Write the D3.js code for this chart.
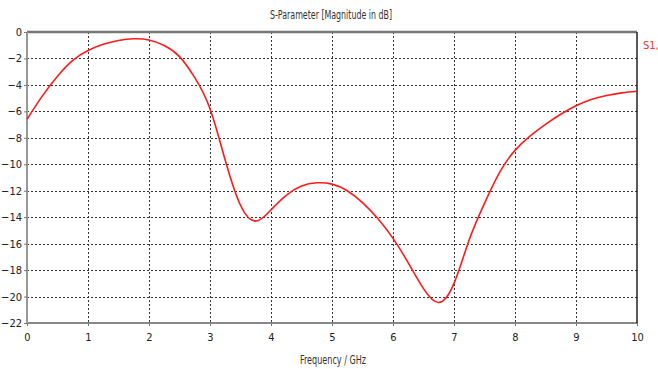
<!DOCTYPE html>
<html><head><meta charset="utf-8">
<script src="https://cdn.jsdelivr.net/npm/d3@7"></script>
<style>
html,body{margin:0;padding:0;background:#fff;}
svg{display:block;}
text{font-family:"DejaVu Sans",sans-serif;font-stretch:condensed;}
</style></head>
<body>
<script>
const freq = [0,0.25,0.5,0.75,1.0,1.25,1.5,1.75,2.0,2.25,2.5,2.75,3.0,3.25,3.5,3.75,4.0,4.25,4.5,4.75,5.0,5.25,5.5,5.75,6.0,6.25,6.5,6.75,7.0,7.25,7.5,7.75,8.0,8.25,8.5,8.75,9.0,9.25,9.5,9.75,10];
const s11 = [-6.6,-4.85,-3.35,-2.15,-1.4,-0.93,-0.64,-0.51,-0.6,-1.02,-1.86,-3.45,-5.8,-9.7,-13.1,-14.3,-13.45,-12.35,-11.65,-11.4,-11.5,-12.0,-12.9,-14.1,-15.6,-17.45,-19.4,-20.45,-19.0,-15.7,-12.95,-10.6,-8.95,-7.85,-6.98,-6.22,-5.58,-5.1,-4.8,-4.6,-4.48];
const xTicks = [0,1,2,3,4,5,6,7,8,9,10];
const yTicks = [0,-2,-4,-6,-8,-10,-12,-14,-16,-18,-20,-22];
const title = "S-Parameter [Magnitude in dB]";
const xTitle = "Frequency / GHz";
const legendLabel = "S1,";

const W = 658, H = 369;
const m = {left:27, right:21, top:32, bottom:46};
const svg = d3.select("body").append("svg").attr("width",W).attr("height",H);
const x = d3.scaleLinear().domain([0,10]).range([m.left, W-m.right]);
const y = d3.scaleLinear().domain([-22,0]).range([H-m.bottom, m.top]);

// grid
svg.append("g").selectAll("line").data(xTicks.slice(1,-1)).join("line")
  .attr("x1",d=>Math.round(x(d))+0.5).attr("x2",d=>Math.round(x(d))+0.5)
  .attr("y1",y(0)).attr("y2",y(-22))
  .attr("stroke","#333").attr("stroke-width",1).attr("stroke-dasharray","2,2");
svg.append("g").selectAll("line").data(yTicks.slice(1,-1)).join("line")
  .attr("y1",d=>Math.round(y(d))+0.5).attr("y2",d=>Math.round(y(d))+0.5)
  .attr("x1",x(0)).attr("x2",x(10))
  .attr("stroke","#333").attr("stroke-width",1).attr("stroke-dasharray","2,2");

// frame
svg.append("line").attr("x1",x(0)).attr("x2",x(10)).attr("y1",y(0)).attr("y2",y(0)).attr("stroke","#777").attr("stroke-width",2.5);
svg.append("line").attr("x1",x(0)).attr("x2",x(10)+1).attr("y1",y(-22)).attr("y2",y(-22)).attr("stroke","#888").attr("stroke-width",2);
svg.append("line").attr("x1",x(0)).attr("x2",x(0)).attr("y1",y(0)).attr("y2",y(-22)).attr("stroke","#999").attr("stroke-width",2);
svg.append("line").attr("x1",x(10)).attr("x2",x(10)).attr("y1",y(0)).attr("y2",y(-22)).attr("stroke","#222").attr("stroke-width",1.5);

// axes
const yAxis = d3.axisLeft(y).tickValues(yTicks).tickSize(3).tickPadding(2);
const gy = svg.append("g").attr("transform",`translate(${x(0)},0)`).call(yAxis);
gy.select(".domain").remove();
gy.selectAll(".tick line").attr("stroke","#777");
gy.selectAll("text").attr("font-size",11).attr("fill","#222").attr("font-family","DejaVu Sans, sans-serif").style("font-stretch","condensed");

const xAxis = d3.axisBottom(x).tickValues(xTicks).tickSize(3).tickPadding(7);
const gx = svg.append("g").attr("transform",`translate(0,${y(-22)})`).call(xAxis);
gx.select(".domain").remove();
gx.selectAll(".tick line").attr("stroke","#777");
gx.selectAll("text").attr("font-size",11).attr("fill","#222").attr("font-family","DejaVu Sans, sans-serif").style("font-stretch","condensed");

// curve
const pts = freq.map((f,i)=>[f,s11[i]]);
const line = d3.line().x(d=>x(d[0])).y(d=>y(d[1])).curve(d3.curveNatural);
svg.append("path").attr("d",line(pts)).attr("fill","none").attr("stroke","#ff1a1a").attr("stroke-width",1.6);

// titles
svg.append("text").attr("x",270).attr("y",18.5).attr("font-size",12).attr("fill","#333")
  .attr("textLength",122).attr("lengthAdjust","spacingAndGlyphs").text(title);
svg.append("text").attr("x",300).attr("y",364).attr("font-size",12).attr("fill","#333")
  .attr("textLength",66).attr("lengthAdjust","spacingAndGlyphs").text(xTitle);
svg.append("text").attr("x",643).attr("y",49).attr("font-size",10).attr("fill","#ff3030").attr("font-family","Liberation Serif, serif").style("font-stretch","normal").text(legendLabel);
</script>
</body></html>
